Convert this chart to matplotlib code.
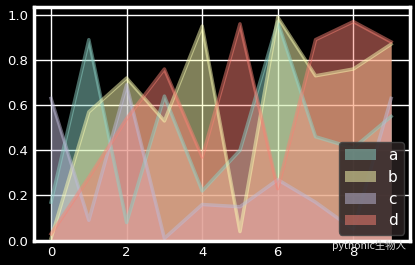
import matplotlib
matplotlib.use("Agg")
import matplotlib.pyplot as plt
import numpy as np

plt.style.use("dark_background")

x = list(range(10))
labels = ["a", "b", "c", "d"]
a = [0.17, 0.89, 0.08, 0.64, 0.22, 0.40, 0.97, 0.46, 0.41, 0.55]
b = [0.01, 0.57, 0.72, 0.53, 0.95, 0.04, 0.99, 0.73, 0.76, 0.87]
c = [0.63, 0.09, 0.69, 0.01, 0.16, 0.15, 0.27, 0.17, 0.05, 0.63]
d = [0.03, 0.28, 0.54, 0.76, 0.37, 0.96, 0.23, 0.89, 0.97, 0.88]
series = [a, b, c, d]
colors = ["#8dd3c7", "#feffb3", "#bfbbd9", "#fa8174"]

fig = plt.figure(figsize=(4.15, 2.65), dpi=100)
ax = fig.add_axes([0.082, 0.092, 0.906, 0.882])

handles = []
for lab, ys, col in zip(labels, series, colors):
    ax.plot(x, ys, color=col, alpha=0.5, linewidth=2.5)
    h = ax.fill_between(x, 0, ys, color=col, alpha=0.5, linewidth=0, label=lab)
    handles.append(h)

ax.set_xlim(-0.45, 9.5)
ax.set_ylim(0, 1.035)
ax.set_xticks([0, 2, 4, 6, 8])
ax.set_yticks([0.0, 0.2, 0.4, 0.6, 0.8, 1.0])
ax.tick_params(labelsize=9.5, length=0, pad=4)
ax.grid(True, color="white", linewidth=1)
ax.set_axisbelow(True)
for s in ax.spines.values():
    s.set_color("white")
    s.set_linewidth(2.5)

leg = ax.legend(handles=handles, loc="lower right", fontsize=11,
                facecolor="#2a2222", edgecolor="#444444", framealpha=0.85,
                borderaxespad=0.4, handlelength=2.0, labelspacing=0.45)

fig.text(0.80, 0.072, "pythonic生物人", fontsize=7.5, color="#dddddd",
         family=["Noto Sans CJK SC", "DejaVu Sans"], va="center")

fig.savefig("out.png", dpi=100)
